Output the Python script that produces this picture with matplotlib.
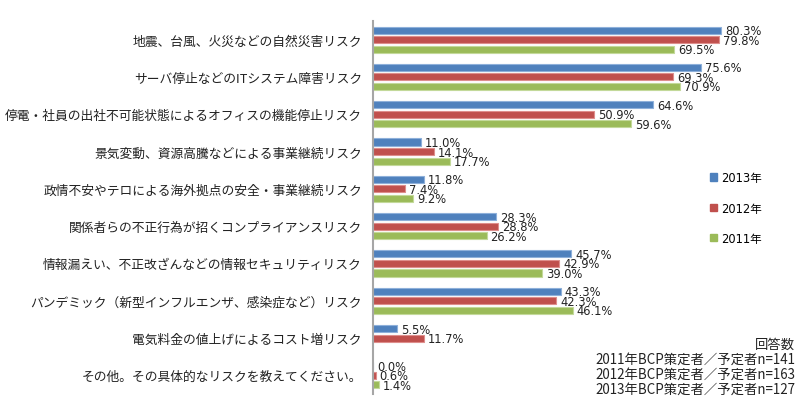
import matplotlib
matplotlib.use("Agg")
import matplotlib.pyplot as plt
from matplotlib.patches import Patch

plt.rcParams['font.family'] = ['Noto Sans CJK JP', 'DejaVu Sans']

categories = [
    "地震、台風、火災などの自然災害リスク",
    "サーバ停止などのITシステム障害リスク",
    "停電・社員の出社不可能状態によるオフィスの機能停止リスク",
    "景気変動、資源高騰などによる事業継続リスク",
    "政情不安やテロによる海外拠点の安全・事業継続リスク",
    "関係者らの不正行為が招くコンプライアンスリスク",
    "情報漏えい、不正改ざんなどの情報セキュリティリスク",
    "パンデミック（新型インフルエンザ、感染症など）リスク",
    "電気料金の値上げによるコスト増リスク",
    "その他。その具体的なリスクを教えてください。",
]
v2013 = [80.3, 75.6, 64.6, 11.0, 11.8, 28.3, 45.7, 43.3, 5.5, 0.0]
v2012 = [79.8, 69.3, 50.9, 14.1, 7.4, 28.8, 42.9, 42.3, 11.7, 0.6]
v2011 = [69.5, 70.9, 59.6, 17.7, 9.2, 26.2, 39.0, 46.1, None, 1.4]
series_names = ["2013年", "2012年", "2011年"]
colors = ["#4F81BD", "#C0504D", "#9BBB59"]
edge_colors = ["#8EB0DA", "#DE8E8C", "#C3D99A"]
note_lines = ["回答数", "2011年BCP策定者／予定者n=141",
              "2012年BCP策定者／予定者n=163", "2013年BCP策定者／予定者n=127"]

fig = plt.figure(figsize=(8.0, 4.02), dpi=100)
ax = fig.add_axes([373/800, 1-395/402, (800-373)/800, (395-22)/402])

offsets = [-0.255, 0.0, 0.255]
h = 0.19
for si, vals in enumerate([v2013, v2012, v2011]):
    for i, v in enumerate(vals):
        if v is None:
            continue
        y = i + offsets[si]
        ax.barh(y, v, height=h, color=colors[si], edgecolor=edge_colors[si], linewidth=0.8)
        ax.annotate(f"{v:.1f}%", (v, y), xytext=(4, -0.5), textcoords='offset pixels',
                    ha='left', va='center', fontsize=8.3, color='#222222',
                    family=['DejaVu Sans'], annotation_clip=False)

ax.set_xlim(0, 98.5)
ax.set_ylim(len(categories)-0.5, -0.5)
ax.set_yticks(range(len(categories)))
ax.set_yticklabels(categories, fontsize=9.2, color='#222222')
ax.tick_params(axis='y', length=0, pad=8)
ax.set_xticks([])
for s in ['top', 'right', 'bottom']:
    ax.spines[s].set_visible(False)
ax.spines['left'].set_color('#A6A6A6')
ax.spines['left'].set_linewidth(1.5)

handles = [Patch(facecolor=c, edgecolor=c) for c in colors]
fig.legend(handles, series_names, loc='center left', bbox_to_anchor=(700/800, 1-209/402),
           frameon=False, prop={'family': ['DejaVu Sans', 'Noto Sans CJK JP'], 'size': 8.3},
           handlelength=0.6, handleheight=0.6, handletextpad=0.3, labelspacing=1.5)

ys = [345, 360, 375, 390]
for t, y in zip(note_lines, ys):
    fig.text(795/800, 1-y/402, t, ha='right', va='center', fontsize=9.6, color='#222222')

fig.savefig("out.png", dpi=100)
